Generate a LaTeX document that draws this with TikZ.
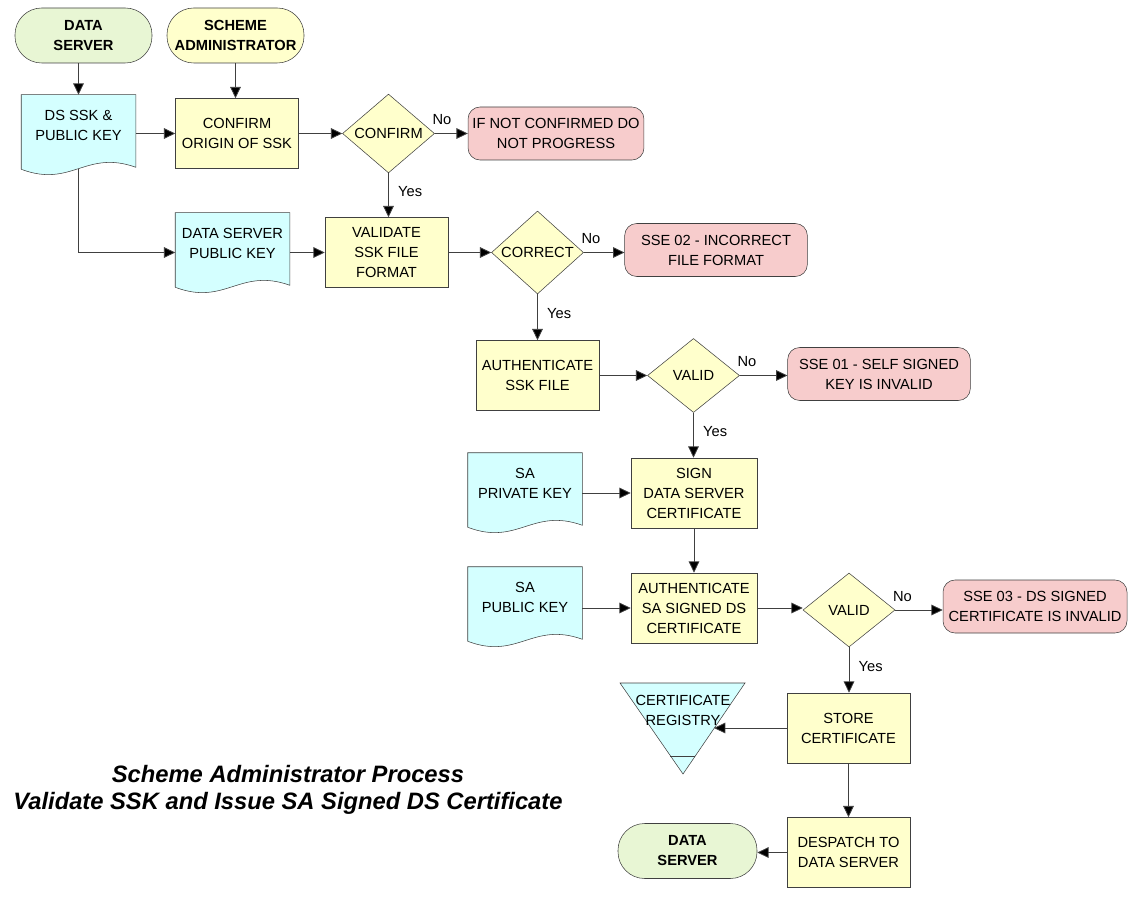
\documentclass[tikz,border=0pt]{standalone}
\usepackage{fontspec}
\setmainfont{Liberation Sans}
\usepackage{tikz}
\usetikzlibrary{arrows.meta, shapes.geometric, backgrounds, calc}
\definecolor{cgreen}{RGB}{232,246,212}
\definecolor{cyellow}{RGB}{255,255,204}
\definecolor{ccyan}{RGB}{212,255,255}
\definecolor{cpink}{RGB}{247,204,204}
\definecolor{cline}{RGB}{64,64,64}
\tikzset{
x=0.75pt, y=-0.75pt,
every node/.style={font=\fontsize{11}{15}\selectfont, align=center},
Terminal/.style={
	draw=cline, rounded corners=20pt,
	minimum width=102.75pt, minimum height=41.25pt,
	font=\fontsize{11}{15}\selectfont\bfseries
},
TermGreen/.style={
	Terminal,
	fill=cgreen
},
TermYellow/.style={
	Terminal,
	fill=cyellow
},
Process/.style={
	draw=cline, fill=cyellow,
	minimum width=92.25pt, minimum height=52.5pt,
	inner sep=1pt
},
Decision/.style={
	draw=cline, fill=cyellow, diamond,
	minimum width=69pt, minimum height=55.5pt,
	inner sep=0pt
},
Error/.style={
	draw=cline, fill=cpink, rounded corners=9pt,
	minimum width=137pt, minimum height=39.75pt
},
Doc/.style={
	minimum width=85.5pt, minimum height=45pt,
	inner sep=0pt
},
DocLine/.style={
	draw=cline, fill=ccyan
},
Edge/.style={
	draw=cline, line width=0.6pt,
	-{Triangle[length=8.5pt,width=8pt,fill=black]}
},
Lbl/.style={
	font=\fontsize{11}{13}\selectfont, inner sep=1pt
},
Title/.style={
	font=\fontsize{17.8}{21}\selectfont\bfseries\itshape
}
}

\begin{document}
\begin{tikzpicture}
	\useasboundingbox (0,0) rectangle (1144,916);

	% start points
	\node[TermGreen] (dsterm) at (83.5,35.5) {DATA\\SERVER};
	\node[TermYellow] (saterm) at (235.5,35.5) {SCHEME\\ADMINISTRATOR};

	% first row
	\node[Doc] (dsssk) at (78.5,125) {DS SSK \&\\PUBLIC KEY};
	\node[Process] (confo) at (237,133.5) {CONFIRM\\ORIGIN OF SSK};
	\node[Decision] (cfm) at (388.5,133.5) {CONFIRM};
	\node[Error, minimum width=120.75pt] (ifnot) at (556,133.5) {IF NOT CONFIRMED DO\\NOT PROGRESS};

	% second row
	\node[Doc] (dspub) at (232.5,243) {DATA SERVER\\PUBLIC KEY};
	\node[Process] (valid) at (386.5,252.5) {VALIDATE\\SSK FILE\\FORMAT};
	\node[Decision] (corr) at (537.5,252.5) {CORRECT};
	\node[Error] (sse02) at (716,250) {SSE 02 - INCORRECT\\FILE FORMAT};

	% third row
	\node[Process] (authssk) at (537.5,375.5) {AUTHENTICATE\\SSK FILE};
	\node[Decision] (vld1) at (693.5,375.5) {VALID};
	\node[Error] (sse01) at (879,374) {SSE 01 - SELF SIGNED\\KEY IS INVALID};

	% signing
	\node[Doc] (saprv) at (525,483) {SA\\PRIVATE KEY};
	\node[Process, minimum width=94.5pt] (sign) at (694,493) {SIGN\\DATA SERVER\\CERTIFICATE};
	\node[Doc] (sapub) at (525,597) {SA\\PUBLIC KEY};
	\node[Process, minimum width=94.5pt] (authsa) at (694,608) {AUTHENTICATE\\SA SIGNED DS\\CERTIFICATE};
	\node[Decision] (vld2) at (849,610) {VALID};
	\node[Error, minimum width=138pt] (sse03) at (1035,606.5) {SSE 03 - DS SIGNED\\CERTIFICATE IS INVALID};

	% storing
	\node[Process] (store) at (848.5,728) {STORE\\CERTIFICATE};
	\node[Process] (desp) at (848.5,852.5) {DESPATCH TO\\DATA SERVER};
	\node[TermGreen, minimum width=104.25pt] (dsend) at (687.5,851) {DATA\\SERVER};

	% registry
	\coordinate (ta) at (620,683);
	\coordinate (tb) at (745,683);
	\coordinate (tc) at (683,774);
	\coordinate (regin) at ($(tb)!0.5!(tc)$);
	\node[inner sep=0pt] (reg) at (683,710) {CERTIFICATE\\REGISTRY};

	\begin{scope}[on background layer]
		\foreach \d in {dsssk,dspub,saprv,sapub}
			\draw[DocLine] (\d.north west) -- (\d.north east) -- ([shift={(0,12)}]\d.south east)
				.. controls +(-50,-18) and +(50,19) .. ([shift={(0,14)}]\d.south west) -- cycle;
		\draw[DocLine] (ta) -- (tb) -- (tc) -- cycle;
		\draw[cline] ($(ta)!0.8!(tc)$) -- ($(tb)!0.8!(tc)$);
	\end{scope}

	% title
	\node[Title] (title1) at (288,774) {Scheme Administrator Process};
	\node[Title] (title2) at (288,803) {Validate SSK and Issue SA Signed DS Certificate};

	% connectors
	\draw[Edge] (dsterm.south -| dsssk.north) -- (dsssk.north);
	\draw[Edge] (saterm.south) -- (saterm.south |- confo.north);
	\draw[Edge] (confo.west -| dsssk.east) -- (confo.west);
	\draw[Edge] (confo.east) -- (cfm.west);
	\draw[Edge] (cfm.east) -- node[Lbl, at start, anchor=south west, xshift=-3pt, yshift=5pt] {No} (ifnot.west);
	\draw[Edge] (cfm.south) -- node[Lbl, at start, anchor=north west, xshift=6pt, yshift=-9pt] {Yes} (cfm.south |- valid.north);
	\draw[Edge] ([shift={(0,13.5)}]dsssk.south) |- (dspub.west |- valid.west);
	\draw[Edge] (valid.west -| dspub.east) -- (valid.west);
	\draw[Edge] (valid.east) -- (corr.west);
	\draw[Edge] (corr.east) -- node[Lbl, at start, anchor=south west, xshift=-3pt, yshift=5pt] {No} (sse02.west |- corr.east);
	\draw[Edge] (corr.south) -- node[Lbl, at start, anchor=north west, xshift=6pt, yshift=-9pt] {Yes} (authssk.north);
	\draw[Edge] (authssk.east) -- (vld1.west);
	\draw[Edge] (vld1.east) -- node[Lbl, at start, anchor=south west, xshift=-3pt, yshift=5pt] {No} (sse01.west |- vld1.east);
	\draw[Edge] (vld1.south) -- node[Lbl, at start, anchor=north west, xshift=6pt, yshift=-9pt] {Yes} (vld1.south |- sign.north);
	\draw[Edge] (sign.west -| saprv.east) -- (sign.west);
	\draw[Edge] (sign.south) -- (authsa.north);
	\draw[Edge] (authsa.west -| sapub.east) -- (authsa.west);
	\draw[Edge] (authsa.east) -- (authsa.east -| vld2.west);
	\draw[Edge] (vld2.east) -- node[Lbl, at start, anchor=south west, xshift=-3pt, yshift=5pt] {No} (sse03.west |- vld2.east);
	\draw[Edge] (vld2.south) -- node[Lbl, at start, anchor=north west, xshift=6pt, yshift=-9pt] {Yes} (vld2.south |- store.north);
	\draw[Edge] (store.west) -- (store.west -| regin);
	\draw[Edge] (store.south) -- (desp.north);
	\draw[Edge] (desp.west) -- (desp.west -| dsend.east);
\end{tikzpicture}
\end{document}
